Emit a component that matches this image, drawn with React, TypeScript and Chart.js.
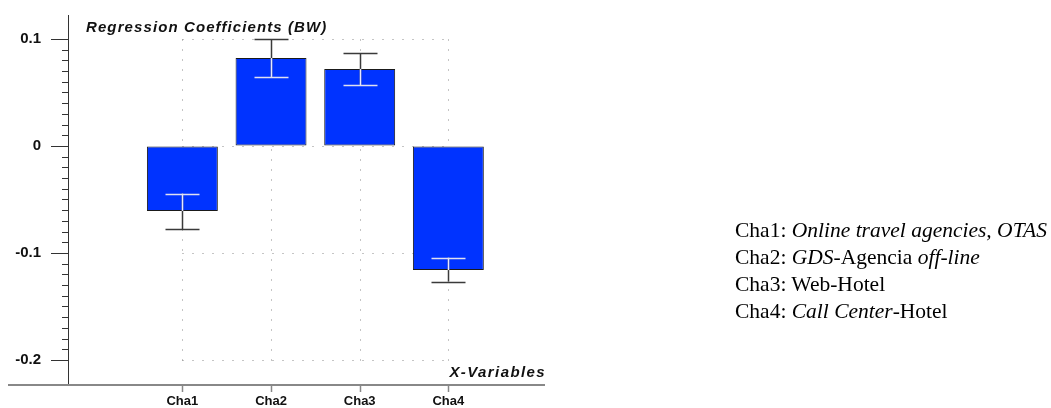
import React, { useEffect, useRef } from 'react';
import { Chart, registerables } from 'chart.js';

Chart.register(...registerables);

const categories = ['Cha1', 'Cha2', 'Cha3', 'Cha4'];
const coefficients = [-0.0607, 0.0822, 0.072, -0.116];
const errorLow = [-0.0776, 0.0645, 0.057, -0.1268];
const errorHigh = [-0.0445, 0.0997, 0.0869, -0.1044];
const yMajorTicks = [-0.2, -0.1, 0, 0.1];
const yMinorStep = 0.01;
const yMin = -0.2234;
const yMax = 0.1224;
const xMin = -0.29;
const xMax = 5.09;
const chartTitle = 'Regression Coefficients (BW)';
const xAxisTitle = 'X-Variables';

const fmt = (v: number) => (Math.abs(v) < 1e-9 ? '0' : String(Math.round(v * 10) / 10));

const decorPlugin = {
  id: 'decor',
  beforeDatasetsDraw(chart: any) {
    const { ctx } = chart;
    const xs = chart.scales.x;
    const ys = chart.scales.y;
    const x0 = Math.round(xs.getPixelForValue(1)) + 0.5;
    const x1 = Math.round(xs.getPixelForValue(categories.length)) + 0.5;
    const yTop = Math.round(ys.getPixelForValue(yMajorTicks[yMajorTicks.length - 1])) + 0.5;
    const yBot = Math.round(ys.getPixelForValue(yMajorTicks[0])) + 0.5;
    ctx.save();
    ctx.strokeStyle = '#8a8a8a';
    ctx.lineWidth = 1;
    ctx.setLineDash([1, 9]);
    yMajorTicks.forEach((v) => {
      const y = Math.round(ys.getPixelForValue(v)) + 0.5;
      ctx.beginPath();
      ctx.moveTo(x0, y);
      ctx.lineTo(x1, y);
      ctx.stroke();
    });
    categories.forEach((_, i) => {
      const x = Math.round(xs.getPixelForValue(i + 1)) + 0.5;
      ctx.beginPath();
      ctx.moveTo(x, yTop);
      ctx.lineTo(x, yBot);
      ctx.stroke();
    });
    ctx.restore();
  },
  afterDatasetsDraw(chart: any) {
    const { ctx, chartArea } = chart;
    const xs = chart.scales.x;
    const ys = chart.scales.y;
    ctx.save();
    // error bars
    const capHalf = 17;
    categories.forEach((_, i) => {
      const x = Math.round(xs.getPixelForValue(i + 1)) + 0.5;
      const v = coefficients[i];
      const lo = errorLow[i];
      const hi = errorHigh[i];
      const bMin = Math.min(0, v);
      const bMax = Math.max(0, v);
      const pLo = ys.getPixelForValue(lo);
      const pHi = ys.getPixelForValue(hi);
      ctx.lineWidth = 1.5;
      ctx.strokeStyle = '#3a3a3a';
      ctx.beginPath();
      ctx.moveTo(x, pLo);
      ctx.lineTo(x, pHi);
      ctx.stroke();
      const inLo = Math.max(lo, bMin);
      const inHi = Math.min(hi, bMax);
      if (inHi > inLo) {
        ctx.strokeStyle = '#e8e8ff';
        ctx.beginPath();
        ctx.moveTo(x, ys.getPixelForValue(inLo));
        ctx.lineTo(x, ys.getPixelForValue(inHi));
        ctx.stroke();
      }
      [lo, hi].forEach((e) => {
        const inside = e >= bMin && e <= bMax;
        ctx.strokeStyle = inside ? '#e0e0f0' : '#3a3a3a';
        const y = Math.round(ys.getPixelForValue(e)) + 0.5;
        ctx.beginPath();
        ctx.moveTo(x - capHalf, y);
        ctx.lineTo(x + capHalf, y);
        ctx.stroke();
      });
    });
    // y-axis tick marks
    ctx.strokeStyle = '#333';
    ctx.lineWidth = 1;
    const left = chartArea.left;
    const nMinor = Math.round((yMajorTicks[yMajorTicks.length - 1] - yMajorTicks[0]) / yMinorStep);
    for (let k = 0; k <= nMinor; k++) {
      const v = yMajorTicks[0] + k * yMinorStep;
      const isMajor = k % 10 === 0;
      const y = Math.round(ys.getPixelForValue(v)) + 0.5;
      ctx.beginPath();
      ctx.moveTo(left - (isMajor ? 17 : 6), y);
      ctx.lineTo(left, y);
      ctx.stroke();
    }
    // x-axis base line
    ctx.strokeStyle = '#888';
    ctx.lineWidth = 2;
    ctx.beginPath();
    ctx.moveTo(8, chartArea.bottom);
    ctx.lineTo(chartArea.right, chartArea.bottom);
    ctx.stroke();
    // x-axis tick marks
    ctx.lineWidth = 1.5;
    categories.forEach((_, i) => {
      const x = Math.round(xs.getPixelForValue(i + 1)) + 0.5;
      ctx.beginPath();
      ctx.moveTo(x, chartArea.bottom);
      ctx.lineTo(x, chartArea.bottom + 7);
      ctx.stroke();
    });
    ctx.restore();
  },
};

export default function App() {
  const canvasRef = useRef<HTMLCanvasElement | null>(null);

  useEffect(() => {
    document.body.style.margin = '0';
    const canvas = canvasRef.current;
    if (!canvas) return;
    const chart = new Chart(canvas, {
      type: 'bar',
      data: {
        datasets: [
          {
            data: coefficients.map((v, i) => ({ x: i + 1, y: v })),
            backgroundColor: '#0033ff',
            borderColor: '#1a1a1a',
            borderWidth: 1,
            borderSkipped: false,
            barPercentage: 0.8,
            categoryPercentage: 1,
          },
        ],
      },
      options: {
        animation: false,
        responsive: false,
        maintainAspectRatio: false,
        layout: { padding: { left: 8, top: 15, right: 506, bottom: 0 } },
        plugins: { legend: { display: false }, tooltip: { enabled: false }, title: { display: false } },
        scales: {
          x: {
            type: 'linear',
            offset: false,
            min: xMin,
            max: xMax,
            afterBuildTicks: (scale: any) => {
              scale.ticks = categories.map((_, i) => ({ value: i + 1 }));
            },
            afterFit: (scale: any) => {
              scale.height = 23;
              scale.paddingLeft = 0;
              scale.paddingRight = 0;
            },
            ticks: {
              autoSkip: false,
              maxRotation: 0,
              padding: 2,
              color: '#111',
              font: { family: 'Arial, "Liberation Sans", sans-serif', size: 13, weight: 'bold' },
              callback: (value: any) => categories[Math.round(Number(value)) - 1] ?? '',
            },
            grid: { offset: false, drawOnChartArea: false, drawTicks: true, tickLength: 7, tickColor: 'rgba(0,0,0,0)' },
            border: { display: false },
          },
          y: {
            type: 'linear',
            min: yMin,
            max: yMax,
            afterBuildTicks: (scale: any) => {
              scale.ticks = yMajorTicks.map((v) => ({ value: v }));
            },
            afterFit: (scale: any) => {
              scale.width = 60;
              scale.paddingTop = 0;
              scale.paddingBottom = 0;
            },
            ticks: {
              padding: 27,
              color: '#111',
              font: { family: 'Arial, "Liberation Sans", sans-serif', size: 15, weight: 'bold' },
              callback: (value: any) => fmt(Number(value)),
            },
            grid: { drawOnChartArea: false, drawTicks: false },
            border: { display: true, color: '#333', width: 1 },
          },
        },
      },
      plugins: [decorPlugin],
    });
    return () => chart.destroy();
  }, []);

  const serif = '"Liberation Serif", "Times New Roman", Times, serif';
  const sansItalic = 'italic bold 15px Arial, "Liberation Sans", sans-serif';
  return (
    <div style={{ position: 'relative', width: 1051, height: 408, background: '#fff', overflow: 'hidden' }}>
      <canvas ref={canvasRef} width={1051} height={408} style={{ position: 'absolute', left: 0, top: 0 }} />
      <div
        style={{
          position: 'absolute',
          left: 86,
          top: 18,
          font: sansItalic,
          letterSpacing: '1.1px',
          color: '#111',
          whiteSpace: 'nowrap',
          lineHeight: '18px',
        }}
      >
        {chartTitle}
      </div>
      <div
        style={{
          position: 'absolute',
          right: 1051 - 546,
          top: 363,
          font: sansItalic,
          letterSpacing: '1.4px',
          color: '#111',
          whiteSpace: 'nowrap',
          lineHeight: '18px',
        }}
      >
        {xAxisTitle}
      </div>
      <div
        style={{
          position: 'absolute',
          left: 735,
          top: 217,
          font: `21.5px ${serif}`,
          lineHeight: '27px',
          color: '#000',
          whiteSpace: 'nowrap',
        }}
      >
        <div>Cha1: <i>Online travel agencies, OTAS</i></div>
        <div>Cha2: <i>GDS</i>-Agencia <i>off-line</i></div>
        <div>Cha3: Web-Hotel</div>
        <div>Cha4: <i>Call Center</i>-Hotel</div>
      </div>
    </div>
  );
}
